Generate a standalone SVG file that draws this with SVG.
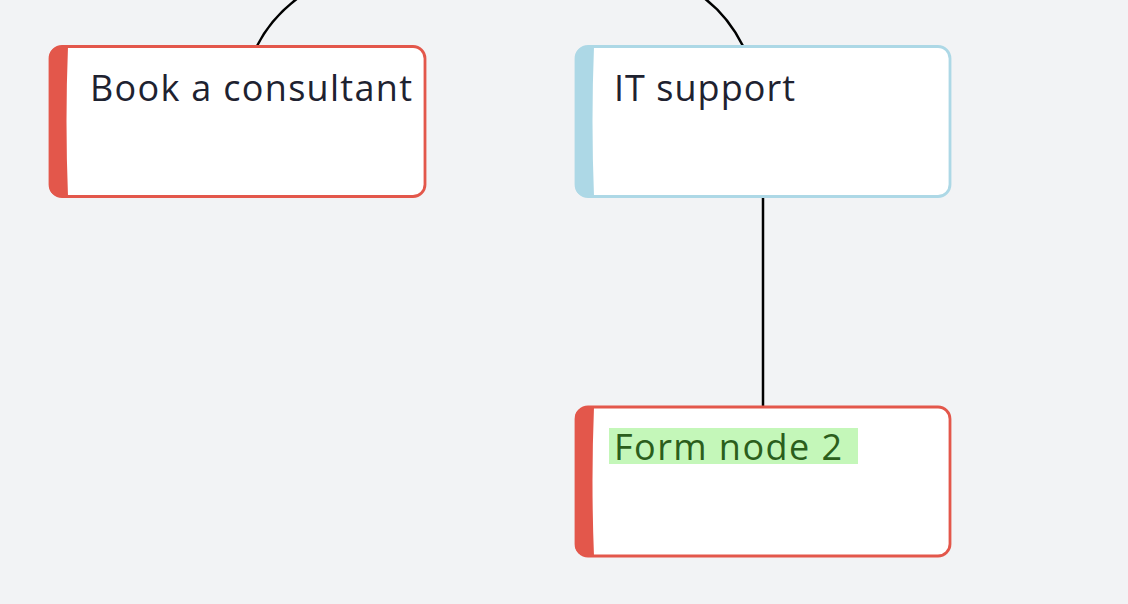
<svg xmlns="http://www.w3.org/2000/svg" width="1128" height="604" viewBox="0 0 1128 604">
<style>
.bg{fill:#f2f3f5}
.card{fill:#ffffff;stroke-width:2.8}
.red .card{stroke:#e3574b}
.red .bar{fill:#e3574b}
.blue .card{stroke:#add8e6}
.blue .bar{fill:#add8e6}
.lbl{font-family:"Open Sans","Liberation Sans",sans-serif;font-size:36px;fill:#1e2230}
.conn{fill:none;stroke:#000;stroke-width:2.5}
</style>
<rect class="bg" x="0" y="0" width="1128" height="604"/>
<g id="connectors">
<path class="conn" d="M257,46 C268,24 282,10 298,-2"/>
<path class="conn" d="M743,46 C733,26 720,10 704,-2"/>
<path class="conn" d="M763,197 L763,407"/>
</g>
<g id="node-book" class="red">
<rect class="card" x="50" y="46.5" width="375" height="150" rx="12"/>
<path class="bar" d="M62,46.5 L68,46.5 Q65,121 68,196.5 L62,196.5 Q49,196.5 49,184 L49,59 Q49,46.5 62,46.5 Z"/>
<text class="lbl" x="90" y="101" textLength="322">Book a consultant</text>
</g>
<g id="node-it" class="blue">
<rect class="card" x="576" y="46.5" width="374" height="150" rx="12"/>
<path class="bar" d="M588,46.5 L594,46.5 Q591,121 594,196.5 L588,196.5 Q575,196.5 575,184 L575,59 Q575,46.5 588,46.5 Z"/>
<text class="lbl" x="614" y="101" textLength="181">IT support</text>
</g>
<g id="node-form2" class="red">
<rect class="card" x="576" y="407" width="374" height="149" rx="12"/>
<path class="bar" d="M588,407 L594,407 Q591,481 594,556 L588,556 Q575,556 575,544 L575,419 Q575,407 588,407 Z"/>
<rect x="609" y="428" width="249" height="36" fill="#c4f7b9"/>
<text class="lbl" x="614" y="460" textLength="228" style="fill:#2b5e1c">Form node 2</text>
</g>
</svg>
